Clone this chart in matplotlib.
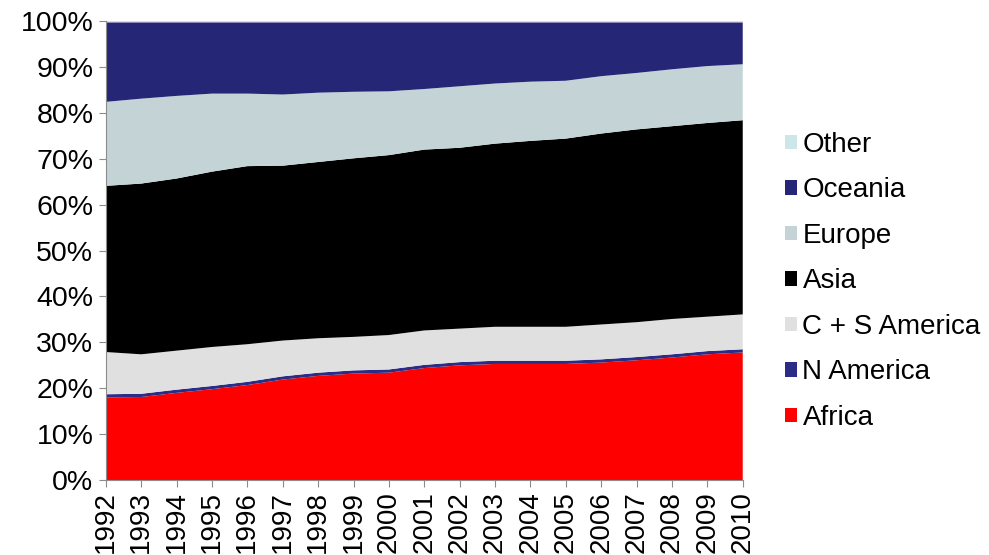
import matplotlib
matplotlib.use('Agg')
import matplotlib.pyplot as plt
from matplotlib.patches import Patch
from matplotlib.ticker import PercentFormatter
import numpy as np

plt.rcParams['font.family'] = ['Liberation Sans', 'DejaVu Sans']

years = list(range(1992, 2011))

# share of each region (%), stacked bottom to top
africa = [18.0, 18.1, 19.0, 19.8, 20.7, 21.9, 22.7, 23.2, 23.4, 24.4,
          25.0, 25.3, 25.3, 25.3, 25.6, 26.1, 26.7, 27.4, 27.8]
n_america = [0.7] * 19
cs_america = [9.2, 8.6, 8.5, 8.5, 8.2, 7.8, 7.5, 7.3, 7.5, 7.5,
              7.3, 7.4, 7.4, 7.4, 7.6, 7.6, 7.7, 7.5, 7.6]
asia = [36.2, 37.2, 37.5, 38.2, 38.8, 38.1, 38.4, 38.9, 39.2, 39.4,
        39.4, 39.9, 40.5, 41.0, 41.6, 42.0, 42.0, 42.2, 42.3]
europe = [18.3, 18.5, 18.0, 17.0, 15.8, 15.5, 15.1, 14.5, 13.9, 13.2,
          13.4, 13.1, 12.9, 12.6, 12.5, 12.3, 12.4, 12.4, 12.2]
oceania = [17.3, 16.6, 16.0, 15.5, 15.5, 15.7, 15.3, 15.1, 15.0, 14.5,
           13.9, 13.3, 12.9, 12.7, 11.7, 11.0, 10.2, 9.5, 9.1]
other = [0.3] * 19

names = ['Africa', 'N America', 'C + S America', 'Asia', 'Europe', 'Oceania', 'Other']
colors = ['#ff0000', '#2b2c85', '#e0e0e0', '#000000', '#c4d4d6', '#262676', '#cde6e8']

fig = plt.figure(figsize=(9.89, 5.55), dpi=100)
ax = fig.add_axes([0.107, 0.135, 0.644, 0.827])

ax.stackplot(years, africa, n_america, cs_america, asia, europe, oceania, other,
             colors=colors, linewidth=0)

ax.set_xlim(years[0], years[-1])
ax.set_ylim(0, 100)
ax.set_xticks(years)
ax.set_xticklabels([str(y) for y in years], rotation=90, fontsize=20)
ax.set_yticks(np.arange(0, 101, 10))
ax.yaxis.set_major_formatter(PercentFormatter(decimals=0))
ax.tick_params(axis='y', labelsize=20.5, length=5, color='#8c8c8c', pad=4)
ax.tick_params(axis='x', length=5, color='#8c8c8c', pad=3)

for side in ['top', 'right']:
    ax.spines[side].set_visible(False)
for side in ['left', 'bottom']:
    ax.spines[side].set_color('#8c8c8c')

handles = [Patch(facecolor=c, edgecolor='none') for c in colors][::-1]
fig.legend(handles, names[::-1], loc='center left', bbox_to_anchor=(0.794, 0.493),
           frameon=False, fontsize=20, handlelength=0.42, handleheight=0.42,
           handletextpad=0.2, labelspacing=0.70, borderpad=0, borderaxespad=0)

fig.savefig('out.png', dpi=100)
